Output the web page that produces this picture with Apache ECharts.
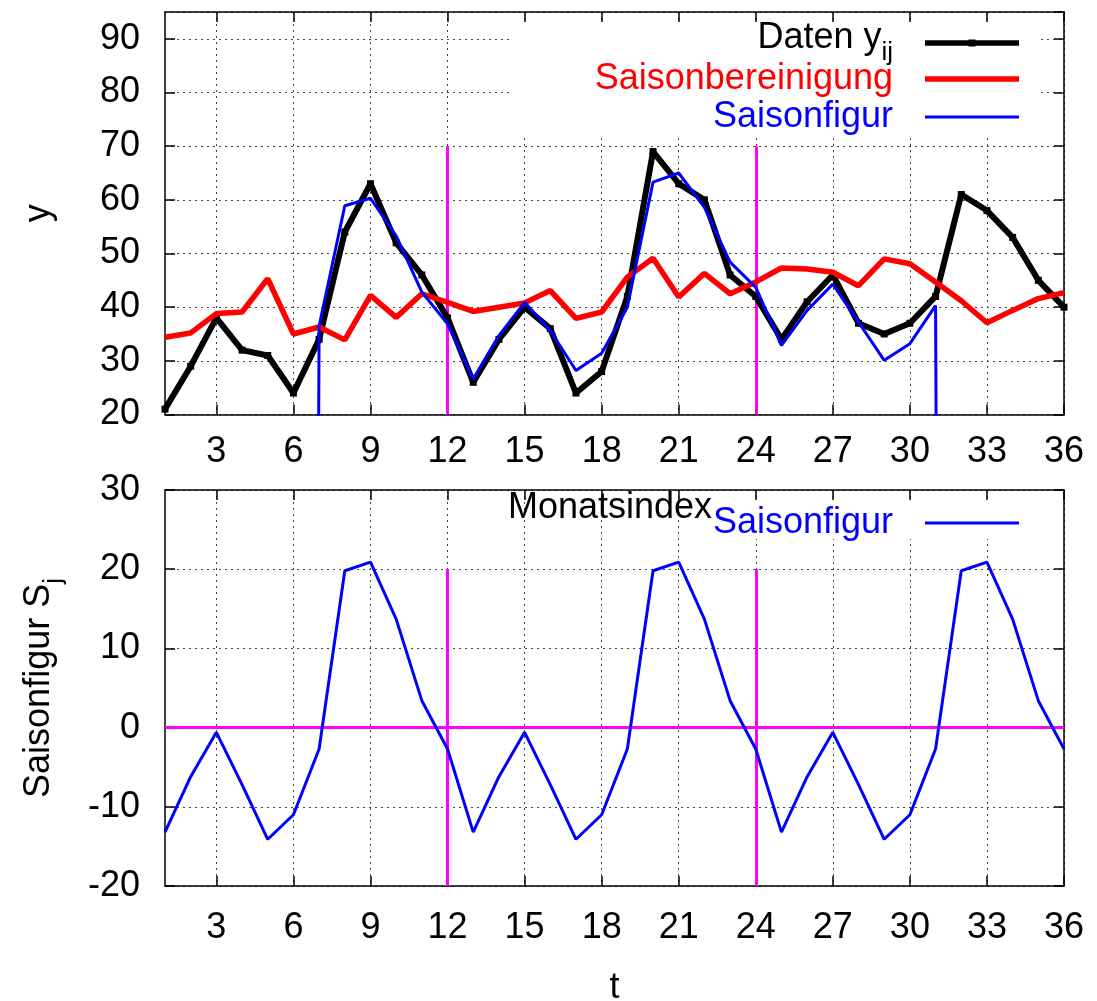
<!DOCTYPE html>
<html>
<head>
<meta charset="utf-8">
<script src="https://cdn.jsdelivr.net/npm/echarts@6/dist/echarts.min.js"></script>
<style>
html, body { margin: 0; padding: 0; background: #fff; }
#main { width: 1097px; height: 1001px; }
</style>
</head>
<body>
<div id="main"></div>
<script>
// Monate t = 1..36
var monate = ['1','2','3','4','5','6','7','8','9','10','11','12',
              '13','14','15','16','17','18','19','20','21','22','23','24',
              '25','26','27','28','29','30','31','32','33','34','35','36'];

// Daten y_ij
var daten = [21, 29, 38, 32, 31, 24, 34, 54, 63, 52, 46, 38,
             26, 34, 40, 36, 24, 28, 42, 69, 63, 60, 46, 42,
             34, 41, 46, 37, 35, 37, 42, 61, 58, 53, 45, 40];

// Saisonbereinigung
var bereinigt = [34.4, 35.2, 38.8, 39.1, 45.3, 35.0, 36.3, 33.9, 42.2, 38.1, 42.5, 40.9,
                 39.2, 40.0, 40.8, 43.1, 37.9, 39.1, 45.6, 49.1, 41.9, 46.3, 42.5, 44.7,
                 47.3, 47.1, 46.5, 44.0, 49.0, 48.1, 44.7, 41.2, 37.1, 39.4, 41.6, 42.7];

// Saisonfigur im oberen Bild (t=6 und t=32 liegen weit unter der Skala -> senkrechter Abfall)
var saisonOben = [null, null, null, null, null, -1000, 36.5, 58.9, 60.3, 53.3, 42.8, 36.9,
                  26.6, 34.7, 40.9, 35.6, 28.2, 31.4, 40.0, 63.3, 65.0, 58.6, 48.4, 43.7,
                  32.9, 39.4, 44.3, 37.2, 30.1, 33.2, 40.3, -1000, null, null, null, null];

// Saisonfigur S_j
var saison = [-13.2, -6.2, -0.6, -7.2, -14.1, -11.0, -2.7, 19.8, 20.9, 13.7, 3.4, -2.7,
              -13.2, -6.2, -0.6, -7.2, -14.1, -11.0, -2.7, 19.8, 20.9, 13.7, 3.4, -2.7,
              -13.2, -6.2, -0.6, -7.2, -14.1, -11.0, -2.7, 19.8, 20.9, 13.7, 3.4, -2.7];

// Jahresgrenzen
var grenzen = ['12', '24'];

var FONT = '"Liberation Sans", Arial, sans-serif';
var jedes3 = function (i) { return (i + 1) % 3 === 0; };

var myChart = echarts.init(document.getElementById('main'));

function xAchse(grid, pos, labels, margin) {
    return {
        type: 'category',
        gridIndex: grid,
        position: pos,
        data: monate,
        boundaryGap: false,
        axisLine: { show: true, onZero: false, lineStyle: { color: '#000', width: 1.5 } },
        axisTick: { show: true, inside: true, length: 10, interval: jedes3, lineStyle: { color: '#000', width: 1.5 } },
        axisLabel: { show: labels, interval: jedes3, fontSize: 36, color: '#000', fontFamily: FONT, margin: margin || 20 },
        splitLine: { show: labels, interval: jedes3, lineStyle: { color: '#444', width: 1, type: [2, 4] } }
    };
}

function yAchse(grid, pos, min, max, labels) {
    return {
        type: 'value',
        gridIndex: grid,
        position: pos,
        min: min,
        max: max,
        interval: 10,
        axisLine: { show: true, onZero: false, lineStyle: { color: '#000', width: 1.5 } },
        axisTick: { show: true, inside: true, length: 10, lineStyle: { color: '#000', width: 1.5 } },
        axisLabel: { show: labels, fontSize: 36, color: '#000', fontFamily: FONT, margin: 25, showMaxLabel: max % 10 === 0 },
        splitLine: { show: labels, lineStyle: { color: '#444', width: 1, type: [2, 4] } }
    };
}

var yOben = yAchse(0, 'left', 20, 95, true);
yOben.name = 'y';
yOben.nameLocation = 'middle';
yOben.nameGap = 108;
yOben.nameTextStyle = { fontSize: 36, color: '#000', fontFamily: FONT };

var yUnten = yAchse(1, 'left', -20, 30, true);
yUnten.name = '{n|Saisonfigur S}{sub|j}';
yUnten.nameLocation = 'middle';
yUnten.nameGap = 98;
yUnten.nameTextStyle = {
    fontSize: 36, color: '#000', fontFamily: FONT,
    rich: {
        n: { fontSize: 36, color: '#000', fontFamily: FONT, verticalAlign: 'top' },
        sub: { fontSize: 26, color: '#000', fontFamily: FONT, padding: [20, 0, 0, 0] }
    }
};

var xUnten = xAchse(1, 'bottom', true, 24);
xUnten.name = 't';
xUnten.nameLocation = 'middle';
xUnten.nameGap = 84;
xUnten.nameTextStyle = { fontSize: 36, color: '#000', fontFamily: FONT };

// Legendensymbole: Linienstueck (schwarz mit Punkt in der Mitte)
var iconDaten = 'path://M0,0.75 H94 V6.25 H0 Z M43.5,0 H50.5 V7 H43.5 Z';

function legende(name, farbe, top, icon, hoehe, formatter) {
    var l = {
        data: [{ name: name, icon: icon }],
        orient: 'vertical',
        align: 'right',
        right: 78,
        top: top,
        padding: 0,
        itemWidth: 94,
        itemHeight: hoehe,
        selectedMode: false,
        textStyle: {
            fontSize: 36, color: farbe, fontFamily: FONT, padding: [0, 27, 0, 0],
            rich: {
                n: { fontSize: 36, color: farbe, fontFamily: FONT, verticalAlign: 'top' },
                sub: { fontSize: 26, color: farbe, fontFamily: FONT, padding: [20, 0, 0, 0] }
            }
        }
    };
    if (formatter) l.formatter = formatter;
    return l;
}

var magenta = { color: '#ff00ff', width: 3, type: 'solid' };

var option = {
    animation: false,
    grid: [
        { left: 165, right: 33, top: 12, height: 402.5, outerBoundsMode: 'none' },
        { left: 165, right: 33, top: 490, height: 396, outerBoundsMode: 'none' }
    ],
    xAxis: [xAchse(0, 'bottom', true), xUnten, xAchse(0, 'top', false), xAchse(1, 'top', false)],
    yAxis: [yOben, yUnten, yAchse(0, 'right', 20, 95, false), yAchse(1, 'right', -20, 30, false)],
    legend: [
        legende('Daten', '#000', 20, iconDaten, 7, function () { return '{n|Daten y}{sub|ij}'; }),
        legende('Saisonbereinigung', '#ff0000', 61, 'rect', 5.5),
        legende('Saisonfigur', '#0000ff', 99, 'rect', 3),
        legende('Saisonfigur', '#0000ff', 505, 'rect', 3)
    ],
    graphic: [
        { type: 'rect', left: 510, top: 23, shape: { width: 530, height: 115 }, style: { fill: '#fff' }, z: 1 },
        { type: 'rect', left: 690, top: 501, shape: { width: 350, height: 38 }, style: { fill: '#fff' }, z: 1 },
        { type: 'text', left: 508, top: 490, z: 5,
          style: { text: 'Monatsindex', fill: '#000', font: '36px "Liberation Sans", Arial, sans-serif' } }
    ],
    series: [
        {
            name: 'Daten',
            type: 'line',
            xAxisIndex: 0, yAxisIndex: 0,
            data: daten,
            symbol: 'rect',
            symbolSize: 7,
            lineStyle: { color: '#000', width: 6 },
            itemStyle: { color: '#000' },
            z: 3,
            markLine: {
                silent: true, symbol: 'none', z: 1,
                label: { show: false },
                lineStyle: magenta,
                data: grenzen.map(function (g) { return [{ coord: [g, 20] }, { coord: [g, 70] }]; })
            }
        },
        {
            name: 'Saisonbereinigung',
            type: 'line',
            xAxisIndex: 0, yAxisIndex: 0,
            data: bereinigt,
            symbol: 'none',
            lineStyle: { color: '#ff0000', width: 5.5 },
            itemStyle: { color: '#ff0000' },
            z: 4
        },
        {
            name: 'Saisonfigur',
            type: 'line',
            xAxisIndex: 0, yAxisIndex: 0,
            data: saisonOben,
            symbol: 'none',
            clip: true,
            lineStyle: { color: '#0000ff', width: 3 },
            itemStyle: { color: '#0000ff' },
            z: 5
        },
        {
            name: 'Saisonfigur',
            type: 'line',
            xAxisIndex: 1, yAxisIndex: 1,
            data: saison,
            symbol: 'none',
            lineStyle: { color: '#0000ff', width: 3 },
            itemStyle: { color: '#0000ff' },
            z: 3,
            markLine: {
                silent: true, symbol: 'none', z: 2,
                label: { show: false },
                lineStyle: magenta,
                data: grenzen.map(function (g) { return [{ coord: [g, -20] }, { coord: [g, 20] }]; })
                    .concat([{ yAxis: 0 }])
            }
        }
    ]
};

myChart.setOption(option);
</script>
</body>
</html>
